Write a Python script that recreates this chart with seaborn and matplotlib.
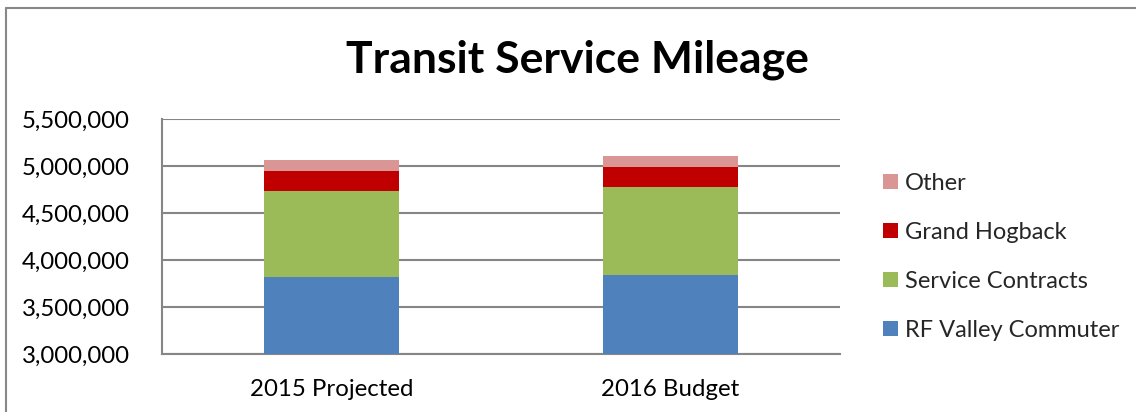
import matplotlib
matplotlib.use("Agg")
import matplotlib.pyplot as plt
import matplotlib.ticker as mticker
from matplotlib.patches import Patch
from matplotlib.lines import Line2D
import seaborn as sns
import pandas as pd
import numpy as np

categories = ["2015 Projected", "2016 Budget"]
series_names = ["RF Valley Commuter", "Service Contracts", "Grand Hogback", "Other"]
rf_valley = [3823000, 3841000]
service_contracts = [913000, 934000]
grand_hogback = [214000, 218000]
other = [117000, 113000]
colors = ["#4F81BD", "#9BBB59", "#C00000", "#D99694"]
yticks = [3000000, 3500000, 4000000, 4500000, 5000000, 5500000]

sns.set_theme(style="white")
plt.rcParams['font.family'] = ['Lato', 'DejaVu Sans']

fig = plt.figure(figsize=(11.36, 4.12), dpi=100)
ax = fig.add_axes([162/1136, 1-354/412, (840-162)/1136, (354-119)/412])

values = [rf_valley, service_contracts, grand_hogback, other]
cum = np.cumsum(np.array(values), axis=0)
df = pd.DataFrame({"category": categories})
# draw from top layer down so each stack segment shows
for i in range(len(series_names) - 1, -1, -1):
    df["total"] = cum[i]
    sns.barplot(data=df, x="category", y="total", color=colors[i], width=0.4,
                saturation=1, ax=ax, edgecolor="none", linewidth=0, zorder=3)

ax.set_ylim(yticks[0], yticks[-1])
ax.set_yticks(yticks)
ax.yaxis.set_major_formatter(mticker.FuncFormatter(lambda v, p: f"{int(v):,}"))
ax.set_xlabel("")
ax.set_ylabel("")
ax.grid(axis="y", color="#868686", linewidth=1.5, zorder=0)
ax.grid(axis="x", visible=False)
for s in ["top", "right"]:
    ax.spines[s].set_visible(False)
for s in ["left", "bottom"]:
    ax.spines[s].set_color("#868686")
    ax.spines[s].set_linewidth(1.5)
ax.tick_params(axis="y", length=0, pad=23, labelsize=17.3, labelcolor="black")
ax.tick_params(axis="x", length=0, pad=18, labelsize=17.3, labelcolor="black")

handles = [Patch(facecolor=colors[i], edgecolor="none", label=series_names[i])
           for i in range(len(series_names) - 1, -1, -1)]
fig.legend(handles=handles, loc="upper left", bbox_to_anchor=(883/1136, 1-173/412),
           frameon=False, fontsize=17, handlelength=0.63, handleheight=0.63,
           handletextpad=0.3, labelspacing=1.18, borderaxespad=0, borderpad=0)

fig.text(577/1136, 1-60/412, "Transit Service Mileage", ha="center", va="center",
         fontsize=32, fontweight="bold", color="black")

fig.add_artist(Line2D([6/1136, 1], [1-8/412, 1-8/412], color="#888888", linewidth=1.5,
                      transform=fig.transFigure))
fig.add_artist(Line2D([6/1136, 6/1136], [0, 1-8/412], color="#888888", linewidth=1.5,
                      transform=fig.transFigure))

fig.savefig("out.png", dpi=100)
